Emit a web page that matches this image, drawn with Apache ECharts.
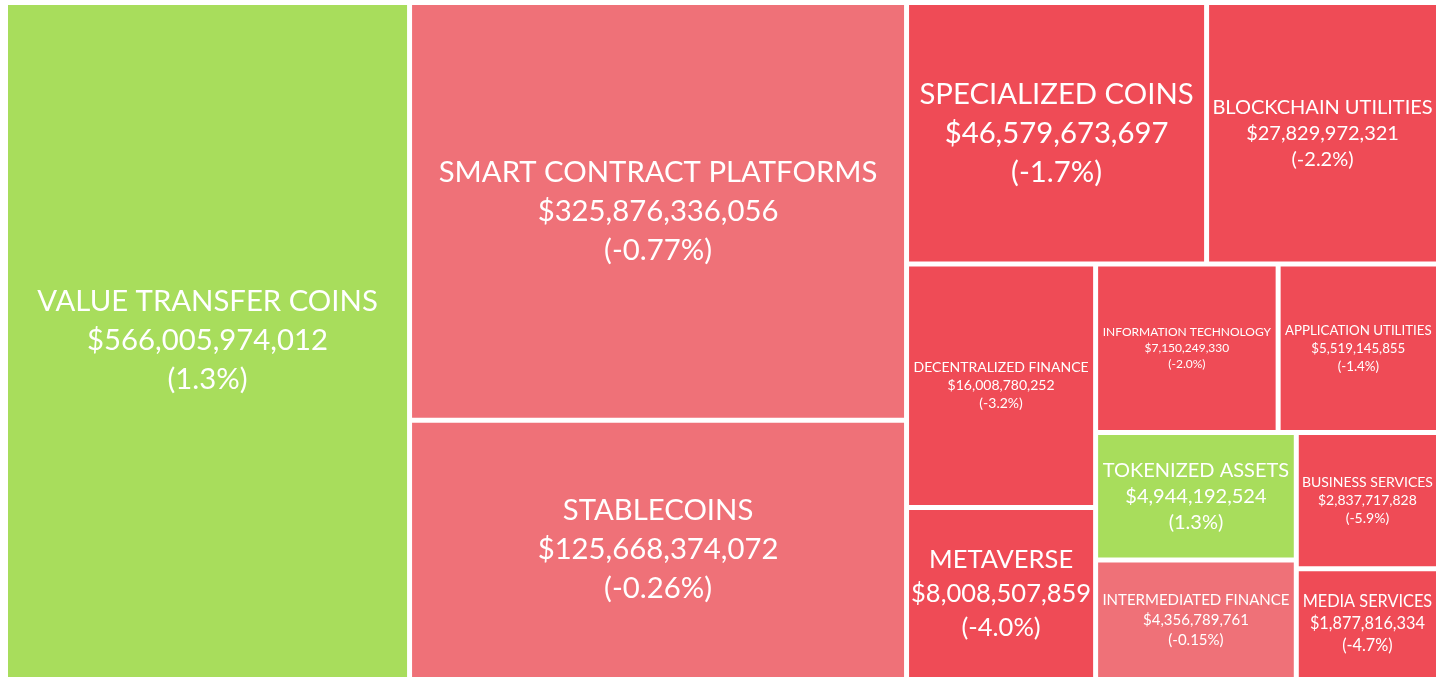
<!DOCTYPE html>
<html lang="en">
<head>
    <meta charset="UTF-8">
    <title>Crypto sectors</title>
    <script src="https://cdn.jsdelivr.net/npm/echarts@6/dist/echarts.min.js"></script>
    <style>
        html, body { margin: 0; padding: 0; background: #fff; }
    </style>
</head>
<body>
<div id="chart" style="width: 1447px; height: 680px;"></div>
<script type="text/javascript">

    var sectors = ['VALUE TRANSFER COINS', 'SMART CONTRACT PLATFORMS', 'STABLECOINS', 'SPECIALIZED COINS',
        'BLOCKCHAIN UTILITIES', 'DECENTRALIZED FINANCE', 'METAVERSE', 'INFORMATION TECHNOLOGY',
        'APPLICATION UTILITIES', 'TOKENIZED ASSETS', 'INTERMEDIATED FINANCE', 'BUSINESS SERVICES', 'MEDIA SERVICES'];
    var marketCaps = [566005974012, 325876336056, 125668374072, 46579673697,
        27829972321, 16008780252, 8008507859, 7150249330,
        5519145855, 4944192524, 4356789761, 2837717828, 1877816334];
    var changes = [1.3, -0.77, -0.26, -1.7, -2.2, -3.2, -4.0, -2.0, -1.4, 1.3, -0.15, -5.9, -4.7];

    // label size per cell (style only)
    var labelSize = {
        'VALUE TRANSFER COINS': 29.3, 'SMART CONTRACT PLATFORMS': 29.3, 'STABLECOINS': 29.3, 'SPECIALIZED COINS': 29.3,
        'BLOCKCHAIN UTILITIES': 20, 'DECENTRALIZED FINANCE': 14, 'METAVERSE': 25.5, 'INFORMATION TECHNOLOGY': 12,
        'APPLICATION UTILITIES': 13.3, 'TOKENIZED ASSETS': 20, 'INTERMEDIATED FINANCE': 15, 'BUSINESS SERVICES': 14,
        'MEDIA SERVICES': 16.3
    };

    function colorFor(c) {
        if (c > 0) return '#a8dd5c';
        if (c > -1) return '#ef7178';
        return '#ef4b56';
    }

    var items = sectors.map(function (name, i) {
        var fs = labelSize[name];
        return {
            name: name,
            value: Math.sqrt(marketCaps[i]),   // cell area goes with sqrt of market cap
            cap: marketCaps[i],
            change: changes[i],
            itemStyle: { color: colorFor(changes[i]) },
            label: { fontSize: fs, lineHeight: Math.round(fs * 1.32) }
        };
    });

    var myChart = echarts.init(document.getElementById('chart'));

    var option = {
        animation: false,
        series: [{
            type: 'treemap',
            left: 8,
            top: 5,
            width: 1428,
            height: 672,
            roam: false,
            nodeClick: false,
            breadcrumb: { show: false },
            squareRatio: 1,
            label: {
                show: true,
                position: 'inside',
                align: 'center',
                verticalAlign: 'middle',
                color: '#fff',
                fontFamily: 'Lato',
                overflow: 'none',
                formatter: function (p) {
                    var d = p.data;
                    return d.name + '\n$' + d.cap.toLocaleString('en-US') + '\n(' + d.change.toPrecision(2) + '%)';
                }
            },
            upperLabel: { show: false },
            itemStyle: { borderWidth: 0, gapWidth: 5, borderColor: '#fff' },
            levels: [{ itemStyle: { gapWidth: 5, borderWidth: 0 } }],
            data: items
        }]
    };
    myChart.setOption(option);

</script>
</body>
</html>
